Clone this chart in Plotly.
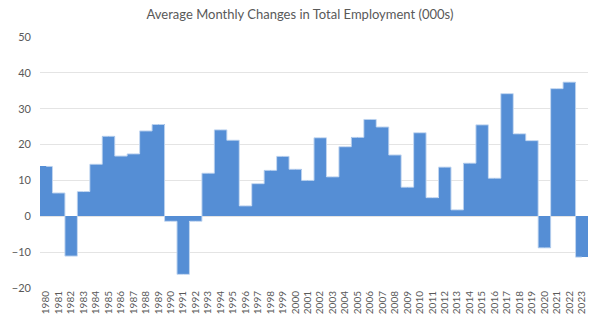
import plotly.graph_objects as go

years = [str(y) for y in range(1980, 2024)]
values = [13.9, 6.5, -11.1, 6.9, 14.5, 22.3, 16.8, 17.4, 23.8, 25.6,
          -1.4, -16.2, -1.4, 12.0, 24.1, 21.2, 2.9, 9.1, 12.8, 16.7,
          13.1, 10.0, 21.9, 11.0, 19.4, 22.0, 27.0, 24.9, 17.1, 8.1,
          23.3, 5.2, 13.7, 1.8, 14.8, 25.5, 10.6, 34.2, 23.0, 21.1,
          -8.8, 35.6, 37.4, -11.4]
y_ticks = [-20, -10, 0, 10, 20, 30, 40, 50]

fig = go.Figure()
fig.add_trace(go.Bar(
    x=years, y=values,
    marker=dict(color="#558ED5", line=dict(width=0)),
))
# light outline along the silhouette of the bars
fig.add_trace(go.Scatter(
    x=years, y=values, mode="lines",
    line=dict(shape="hvh", color="#BDD3EF", width=1),
    hoverinfo="skip",
))
fig.update_layout(
    width=600, height=327,
    margin=dict(l=33, r=12, t=37, b=39),
    paper_bgcolor="white", plot_bgcolor="white",
    bargap=0,
    showlegend=False,
    font=dict(family="Lato, Liberation Sans, sans-serif", color="#595959"),
    title=dict(text="Average Monthly Changes in Total Employment (000s)",
               x=0.5, xanchor="center", y=0.955, yanchor="middle",
               font=dict(size=13, color="#595959")),
)
fig.update_yaxes(range=[-20, 50], tickvals=y_ticks, showgrid=True,
                 gridcolor="#E4E4E4", gridwidth=1, zeroline=False,
                 tickfont=dict(size=11), ticks="", ticklabelstandoff=8)
fig.update_xaxes(tickangle=-90, tickfont=dict(size=10), showgrid=False,
                 ticks="", showline=False)
fig.write_html("out.html")
